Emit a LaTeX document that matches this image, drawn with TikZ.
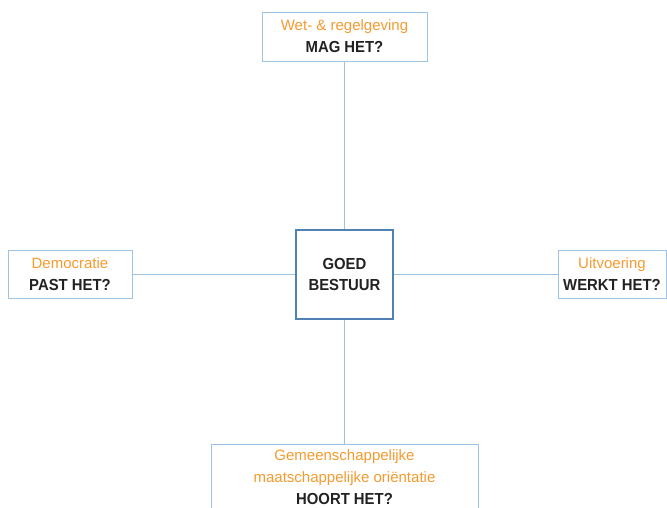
\documentclass[tikz,border=0pt]{standalone}
\usepackage{fontspec}
\setmainfont{Liberation Sans}
\newfontfamily\boldcond[FakeStretch=0.93]{Liberation Sans Bold}
\definecolor{boxblue}{HTML}{9DC3E6}
\definecolor{darkblue}{HTML}{4F81B4}
\definecolor{orng}{HTML}{F59A2F}
\definecolor{txtblack}{HTML}{222222}
\newcommand{\otxt}[1]{{\color{orng}#1}}
\newcommand{\btxt}[1]{{\boldcond\fontsize{16}{22}\selectfont\color{txtblack}#1}}
\tikzset{
  lbox/.style={draw=boxblue, line width=0.9pt, align=center, inner sep=0pt,
    font=\fontsize{15}{22}\selectfont},
  cbox/.style={draw=darkblue, line width=1.3pt, align=center, inner sep=0pt,
    font=\fontsize{15}{21}\selectfont},
  link/.style={draw=boxblue, line width=0.9pt}
}
\begin{document}
\begin{tikzpicture}[x=1pt,y=-1pt]
\useasboundingbox (0,0) rectangle (667,508);
\node[cbox, minimum width=97pt, minimum height=89pt] (c) at (344.5,274.5) {\btxt{GOED}\\\btxt{BESTUUR}};
\node[lbox, minimum width=165pt, minimum height=49pt] (t) at (344.5,36.5) {\otxt{Wet- \& regelgeving}\\\btxt{MAG HET?}};
\node[lbox, minimum width=124pt, minimum height=48pt] (l) at (70,274.5) {\otxt{Democratie}\\\btxt{PAST HET?}};
\node[lbox, minimum width=108pt, minimum height=48pt] (r) at (612,274.5) {\otxt{Uitvoering}\\\btxt{WERKT HET?}};
\node[lbox, minimum width=267pt, anchor=north, text height=60.5pt, text depth=20pt] (b) at (344.5,444)
  {\otxt{Gemeenschappelijke}\\\otxt{maatschappelijke oriëntatie}\\\btxt{HOORT HET?}};
\draw[link] (t.south) -- (c.north);
\draw[link] (l.east) -- (c.west);
\draw[link] (r.west) -- (c.east);
\draw[link] (c.south) -- (b.north);
\end{tikzpicture}
\end{document}
